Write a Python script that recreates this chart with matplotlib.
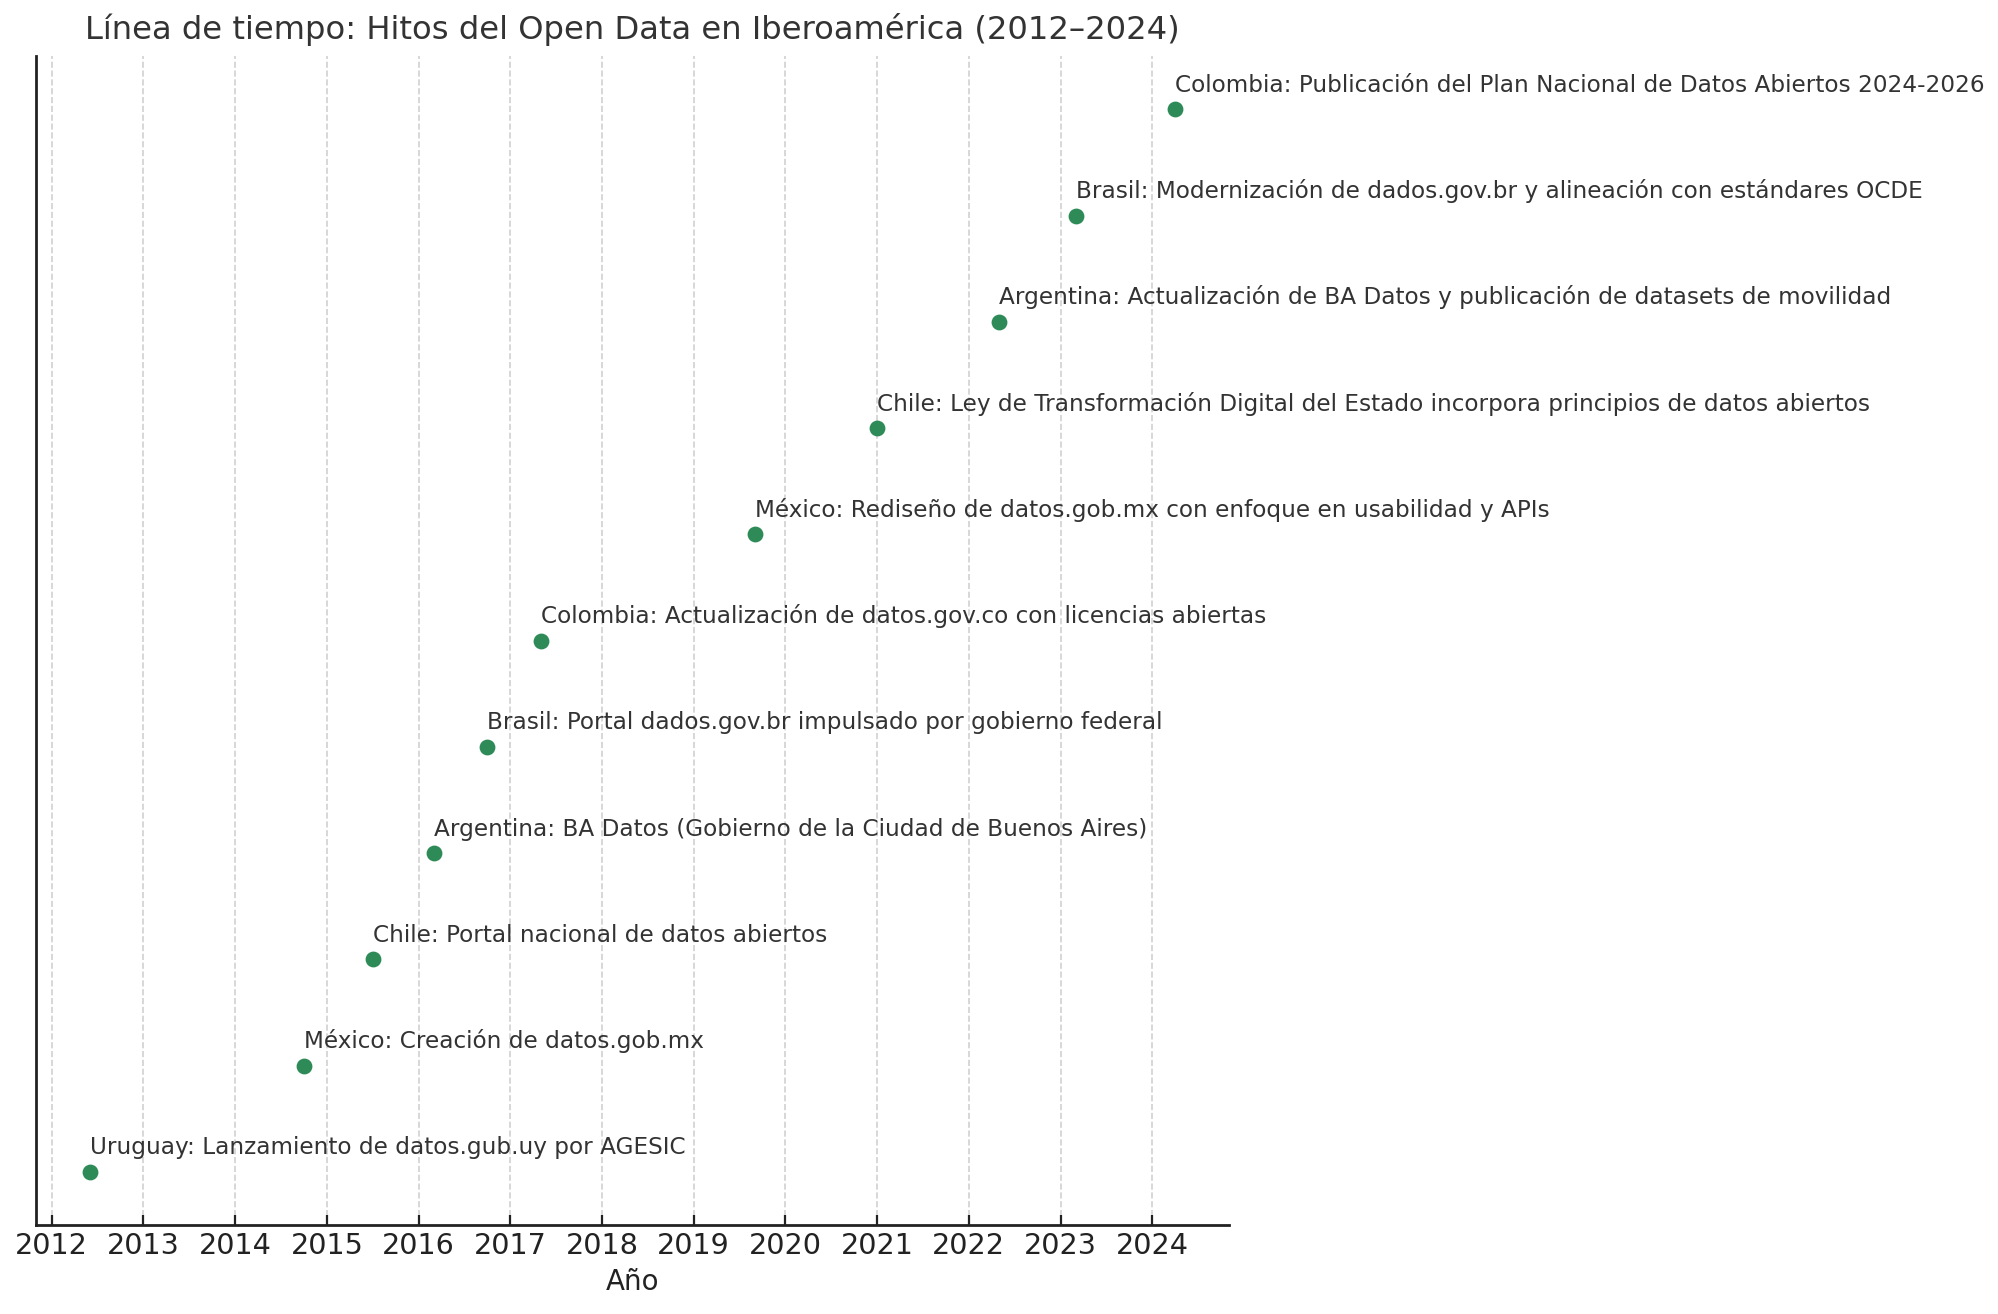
import matplotlib
matplotlib.use('Agg')
import matplotlib.pyplot as plt

# datos del gráfico
fechas = [2012.42, 2014.75, 2015.5, 2016.17, 2016.75, 2017.33,
          2019.67, 2021.0, 2022.33, 2023.17, 2024.25]
hitos = [
    "Uruguay: Lanzamiento de datos.gub.uy por AGESIC",
    "México: Creación de datos.gob.mx",
    "Chile: Portal nacional de datos abiertos",
    "Argentina: BA Datos (Gobierno de la Ciudad de Buenos Aires)",
    "Brasil: Portal dados.gov.br impulsado por gobierno federal",
    "Colombia: Actualización de datos.gov.co con licencias abiertas",
    "México: Rediseño de datos.gob.mx con enfoque en usabilidad y APIs",
    "Chile: Ley de Transformación Digital del Estado incorpora principios de datos abiertos",
    "Argentina: Actualización de BA Datos y publicación de datasets de movilidad",
    "Brasil: Modernización de dados.gov.br y alineación con estándares OCDE",
    "Colombia: Publicación del Plan Nacional de Datos Abiertos 2024-2026",
]
anios = list(range(2012, 2025))

fig = plt.figure(figsize=(9.995, 6.57), dpi=200)
ax = fig.add_axes([0.018, 0.0677, 0.597, 0.8896])

posiciones = list(range(len(fechas)))
ax.scatter(fechas, posiciones, s=22, color='#2E8B57', zorder=3)

for x, y, t in zip(fechas, posiciones, hitos):
    ax.annotate(t, (x, y), xytext=(0, 4.5), textcoords='offset points',
                ha='left', va='bottom', fontsize=8.35, color='#333333')

ax.set_xticks(anios)
ax.set_xticklabels([str(a) for a in anios])
ax.set_ylim(-0.5, len(fechas) - 0.5)
ax.set_yticks([])
ax.tick_params(axis='x', direction='in', length=3.5, labelsize=10.3, pad=2.5, colors='#222222')
ax.grid(axis='x', linestyle='--', color='#cccccc', linewidth=0.6, alpha=0.9)
ax.set_axisbelow(True)

for s in ['top', 'right']:
    ax.spines[s].set_visible(False)
for s in ['left', 'bottom']:
    ax.spines[s].set_linewidth(1.0)
    ax.spines[s].set_color('#222222')

ax.set_xlabel("Año", fontsize=10, labelpad=3, color='#222222')
ax.set_title("Línea de tiempo: Hitos del Open Data en Iberoamérica (2012–2024)",
             fontsize=11.6, color='#333333', pad=6)

fig.savefig('out.png', dpi=200)
